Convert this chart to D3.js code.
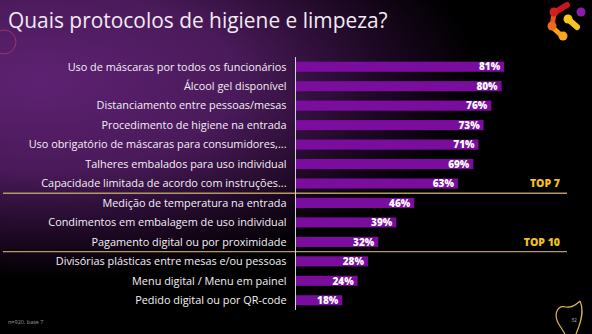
<!DOCTYPE html>
<html><head><meta charset="utf-8">
<script src="https://cdn.jsdelivr.net/npm/d3@7"></script>
<style>html,body{margin:0;padding:0;background:#000;overflow:hidden}</style>
</head><body>
<svg id="c" width="592" height="334"></svg>
<script>
const categories = [
  "Uso de máscaras por todos os funcionários",
  "Álcool gel disponível",
  "Distanciamento entre pessoas/mesas",
  "Procedimento de higiene na entrada",
  "Uso obrigatório de máscaras para consumidores,...",
  "Talheres embalados para uso individual",
  "Capacidade limitada de acordo com instruções...",
  "Medição de temperatura na entrada",
  "Condimentos em embalagem de uso individual",
  "Pagamento digital ou por proximidade",
  "Divisórias plásticas entre mesas e/ou pessoas",
  "Menu digital / Menu em painel",
  "Pedido digital ou por QR-code"
];
const values = [81, 80, 76, 73, 71, 69, 63, 46, 39, 32, 28, 24, 18];
const groupBreaks = [7, 10];
const groupLabels = ["TOP 7", "TOP 10"];
const title = "Quais protocolos de higiene e limpeza?";
const footnote = "n=920, base 7";
const pageNumber = "32";

const W = 592, H = 334;
const svg = d3.select("#c");
const defs = svg.append("defs");
const rg = defs.append("radialGradient").attr("id","bg")
  .attr("gradientUnits","userSpaceOnUse")
  .attr("cx",40).attr("cy",80).attr("r",1)
  .attr("gradientTransform","translate(40,80) scale(440,200) translate(-40,-80)");
rg.append("stop").attr("offset","0").attr("stop-color","#5e2172");
rg.append("stop").attr("offset","0.45").attr("stop-color","#4a1a5a");
rg.append("stop").attr("offset","0.8").attr("stop-color","#1a0720");
rg.append("stop").attr("offset","1").attr("stop-color","#000000");
svg.append("rect").attr("width",W).attr("height",H).attr("fill","#000");
svg.append("rect").attr("width",W).attr("height",H).attr("fill","url(#bg)");

// decorative circle top-left
svg.append("circle").attr("cx",4).attr("cy",42).attr("r",12)
  .attr("fill","none").attr("stroke","#b0406e").attr("stroke-width",1).attr("opacity",0.7);

// title
const t = svg.append("text").attr("x",8).attr("y",28).text(title)
  .attr("fill","#f2eaf4").attr("font-family","'Open Sans', sans-serif")
  .attr("font-weight",400).attr("font-size",20);
const tl = t.node().getComputedTextLength();
t.attr("font-size", 20*380/tl);

const x = d3.scaleLinear().domain([0,100]).range([296, 553]);
const y = d3.scaleBand().domain(categories).range([57, 310]).paddingInner(0.48).paddingOuter(0.24);
const step = y.step();

// separators
groupBreaks.forEach((b,i)=>{
  const yy = y.range()[0] + b*step;
  svg.append("line").attr("x1",3).attr("x2",567).attr("y1",yy).attr("y2",yy)
    .attr("stroke","#b39a5e").attr("stroke-width",1.3);
  svg.append("text").attr("x",560).attr("y", y(categories[b-1]) + y.bandwidth()/2)
    .attr("dy","0.36em").attr("text-anchor","end").text(groupLabels[i])
    .attr("fill","#f2c21b").attr("font-family","'Open Sans', sans-serif")
    .attr("font-weight",800).attr("font-size",10.5);
});

// bars
svg.append("g").selectAll("rect").data(values).join("rect")
  .attr("x", x(0)).attr("y",(d,i)=>y(categories[i]))
  .attr("width", d=>x(d)-x(0)).attr("height", y.bandwidth())
  .attr("fill","#7a0c9e");

svg.append("g").selectAll("text").data(values).join("text")
  .attr("x", d=>x(d)-4).attr("y",(d,i)=>y(categories[i])+y.bandwidth()/2)
  .attr("dy","0.37em").attr("text-anchor","end").text(d=>d+"%")
  .attr("fill","#fff").attr("font-family","'Open Sans', sans-serif")
  .attr("font-weight",800).attr("font-size",10);

// axis
const ax = svg.append("g").attr("transform",`translate(${x(0)-0.5},0)`)
  .call(d3.axisLeft(y).tickSize(0).tickPadding(9));
ax.select(".domain").attr("stroke","#d8d0da").attr("stroke-width",1).attr("d","M0,57V310");
ax.selectAll("text").attr("fill","#f4f0f5").attr("font-family","'Open Sans', sans-serif")
  .attr("font-size",10).attr("dy","0.35em");
const firstW = ax.select(".tick text").node().getComputedTextLength();
ax.selectAll("text").attr("font-size", 10*219/firstW);

// footnote
svg.append("text").attr("x",8).attr("y",324).text(footnote)
  .attr("fill","#9a9a9a").attr("font-family","'Open Sans', sans-serif").attr("font-size",5.5);

// page number badge
svg.append("path").attr("d","M560,326 C553,316 556,305 566,307 C572,308 576,305 580,301 M580,301 C584,310 582,320 576,334 M560,326 L565,334")
  .attr("fill","none").attr("stroke","#d6b84a").attr("stroke-width",1.2);
svg.append("text").attr("x",574).attr("y",322).attr("text-anchor","middle").text(pageNumber)
  .attr("fill","#bbb").attr("font-family","'Open Sans', sans-serif").attr("font-size",5);

// logo
const lg = svg.append("g");
lg.append("line").attr("x1",557).attr("y1",11).attr("x2",567).attr("y2",5).attr("stroke","#c8161c").attr("stroke-width",6).attr("stroke-linecap","round");
lg.append("line").attr("x1",554).attr("y1",13).attr("x2",552).attr("y2",27).attr("stroke","#e8531c").attr("stroke-width",5).attr("stroke-linecap","round");
lg.append("line").attr("x1",552).attr("y1",27).attr("x2",562).attr("y2",36).attr("stroke","#f5a21c").attr("stroke-width",5).attr("stroke-linecap","round");
lg.append("line").attr("x1",568).attr("y1",19).attr("x2",577).attr("y2",27).attr("stroke","#f8c51a").attr("stroke-width",6).attr("stroke-linecap","round");
lg.append("circle").attr("cx",554).attr("cy",12).attr("r",4.5).attr("fill","#d41f1f");
lg.append("circle").attr("cx",552).attr("cy",26).attr("r",4.5).attr("fill","#ef6a1e");
lg.append("circle").attr("cx",563).attr("cy",36).attr("r",4.5).attr("fill","#f6a91c");
lg.append("circle").attr("cx",568).attr("cy",19).attr("r",4.5).attr("fill","#f8c51a");
lg.append("circle").attr("cx",581).attr("cy",12).attr("r",4.5).attr("fill","#8a1ea8");
</script>
</body></html>
